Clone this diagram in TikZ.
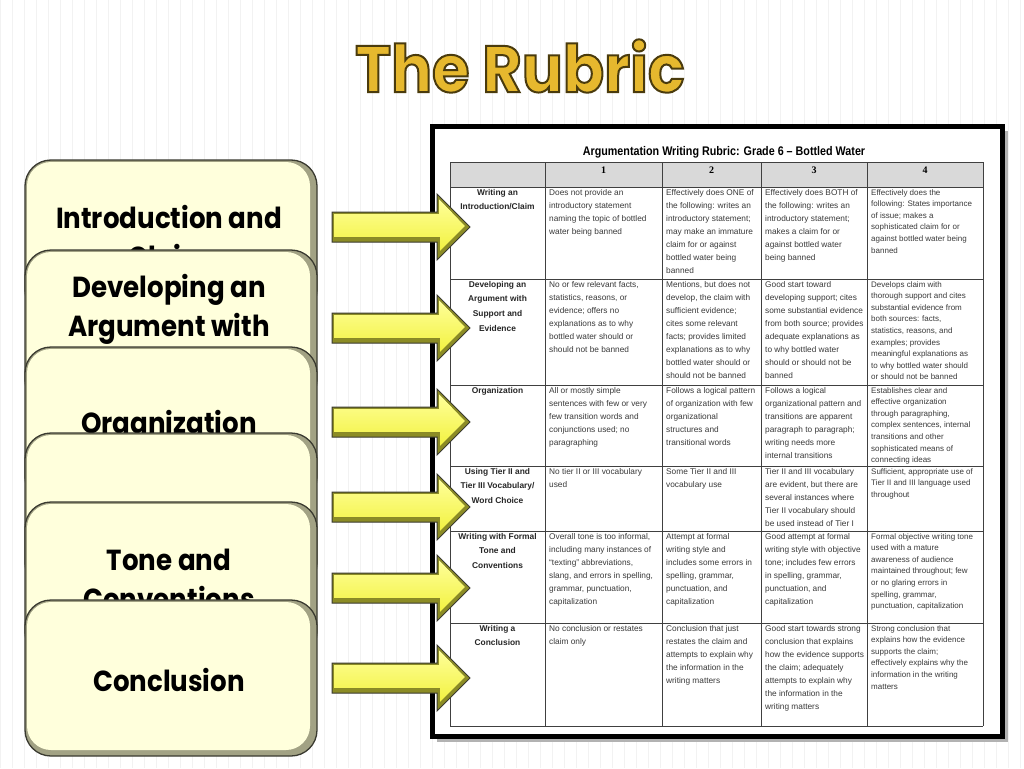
\documentclass[tikz,border=0pt]{standalone}
\usepackage{fontspec}
\setmainfont{Liberation Sans}
\newfontfamily\cardfont[FakeStretch=0.9]{Poppins}
\newfontfamily\titlefont[FakeStretch=0.92]{Poppins}
\newfontfamily\narrowfont[FakeStretch=0.86]{Liberation Sans}
\newfontfamily\numfont{Liberation Serif}
\definecolor{cream}{HTML}{FFFFDC}
\definecolor{bevel}{HTML}{A2A284}
\definecolor{cardline}{HTML}{3A3A30}
\definecolor{gold}{HTML}{E6B82E}
\definecolor{arrowL}{HTML}{FFFF9A}
\definecolor{arrowY}{HTML}{F2F240}
\definecolor{arrowD}{HTML}{8C8C25}
\definecolor{hdrgray}{HTML}{D9D9D9}
\definecolor{celltext}{HTML}{3A3A3A}
\newcommand\outlinedtitle[1]{\color{gold}\special{pdf:literal 2 Tr 2 w 0.29 0.23 0.05 RG}#1\special{pdf:literal 0 Tr 0.4 w}}
\newcommand\blockarrow[1]{%
  \draw[cardline, line width=1pt, fill=arrowD] (332,#1-15) -- (437,#1-15) -- (437,#1-33) -- (470,#1) -- (437,#1+33) -- (437,#1+15) -- (332,#1+15) -- cycle;
  \fill[top color=arrowL, bottom color=arrowY] (334,#1-13) -- (439,#1-13) -- (439,#1-28) -- (465,#1-1) -- (440,#1+24) -- (440,#1+10) -- (334,#1+10) -- cycle;
}
\tikzset{
  cardout/.style={draw=cardline, fill=bevel, line width=1.3pt, rounded corners=26pt, minimum width=292pt, minimum height=156pt, inner sep=0pt},
  cardin/.style={fill=cream, rounded corners=24pt, minimum width=283pt, minimum height=148pt, inner sep=0pt},
  cardtext/.style={font=\cardfont\bfseries\fontsize{29}{39}\selectfont, align=center, text=black, inner sep=0pt},
  cell/.style={anchor=north west, inner sep=0pt, align=left, text=celltext, font=\fontsize{8.3}{13}\selectfont},
  cellb/.style={cell, font=\fontsize{8}{11.6}\selectfont},
  rowhead/.style={anchor=north, inner sep=0pt, align=center, text=black!85, font=\bfseries\fontsize{8.4}{14.6}\selectfont},
  colnum/.style={inner sep=0pt, font=\numfont\bfseries\fontsize{10}{12}\selectfont},
  gridline/.style={black!75, line width=0.8pt}
}
\begin{document}
\begin{tikzpicture}[x=1pt, y=-1pt]
\useasboundingbox (0,0) rectangle (1024,768);
\fill[white] (0,0) rectangle (1024,768);
\draw[black!5, line width=0.4pt, step=12] (0,0) grid (1024,768);
% title
\node[font=\titlefont\bfseries\fontsize{66}{70}\selectfont, inner sep=0pt] (title) at (520,66) {\outlinedtitle{The Rubric}};
% table frame
\fill[black!30] (437,131) rectangle (1008,742);
\draw[black, line width=5pt, fill=white] (432,126) rectangle (1002,736);
\node[font=\narrowfont\bfseries\fontsize{12.5}{14}\selectfont, inner sep=0pt] (ttitle) at (724,152) {Argumentation Writing Rubric: Grade 6 – Bottled Water};
\fill[hdrgray] (450,162) rectangle (983,187);
\foreach \yy in {162,187,279,385,466,531,623,726} \draw[gridline] (450,\yy) -- (983,\yy);
\foreach \xx in {450,545,662,761,867,983} \draw[gridline] (\xx,162) -- (\xx,726);
\node[colnum] (n1) at (603.5,170) {1};
\node[colnum] (n2) at (711.5,170) {2};
\node[colnum] (n3) at (814,170) {3};
\node[colnum] (n4) at (925,170) {4};
% row 1
\node[rowhead] (h1) at (497.5,189) {Writing an\\Introduction/Claim};
\node[cell] (r1c1) at (549,189) {Does not provide an\\introductory statement\\naming the topic of bottled\\water being banned};
\node[cell] (r1c2) at (666,189) {Effectively does ONE of\\the following: writes an\\introductory statement;\\may make an immature\\claim for or against\\bottled water being\\banned};
\node[cell] (r1c3) at (765,189) {Effectively does BOTH of\\the following: writes an\\introductory statement;\\makes a claim for or\\against bottled water\\being banned};
\node[cellb] (r1c4) at (871,189) {Effectively does the\\following: States importance\\of issue; makes a\\sophisticated claim for or\\against bottled water being\\banned};
% row 2
\node[rowhead] (h2) at (497.5,281) {Developing an\\Argument with\\Support and\\Evidence};
\node[cell] (r2c1) at (549,281) {No or few relevant facts,\\statistics, reasons, or\\evidence; offers no\\explanations as to why\\bottled water should or\\should not be banned};
\node[cell] (r2c2) at (666,281) {Mentions, but does not\\develop, the claim with\\sufficient evidence;\\cites some relevant\\facts; provides limited\\explanations as to why\\bottled water should or\\should not be banned};
\node[cell] (r2c3) at (765,281) {Good start toward\\developing support; cites\\some substantial evidence\\from both source; provides\\adequate explanations as\\to why bottled water\\should or should not be\\banned};
\node[cellb] (r2c4) at (871,281) {Develops claim with\\thorough support and cites\\substantial evidence from\\both sources: facts,\\statistics, reasons, and\\examples; provides\\meaningful explanations as\\to why bottled water should\\or should not be banned};
% row 3
\node[rowhead] (h3) at (497.5,387) {Organization};
\node[cell] (r3c1) at (549,387) {All or mostly simple\\sentences with few or very\\few transition words and\\conjunctions used; no\\paragraphing};
\node[cell] (r3c2) at (666,387) {Follows a logical pattern\\of organization with few\\organizational\\structures and\\transitional words};
\node[cell] (r3c3) at (765,387) {Follows a logical\\organizational pattern and\\transitions are apparent\\paragraph to paragraph;\\writing needs more\\internal transitions};
\node[cellb] (r3c4) at (871,387) {Establishes clear and\\effective organization\\through paragraphing,\\complex sentences, internal\\transitions and other\\sophisticated means of\\connecting ideas};
% row 4
\node[rowhead] (h4) at (497.5,468) {Using Tier II and\\Tier III Vocabulary/\\Word Choice};
\node[cell] (r4c1) at (549,468) {No tier II or III vocabulary\\used};
\node[cell] (r4c2) at (666,468) {Some Tier II and III\\vocabulary use};
\node[cell] (r4c3) at (765,468) {Tier II and III vocabulary\\are evident, but there are\\several instances where\\Tier II vocabulary should\\be used instead of Tier I};
\node[cellb] (r4c4) at (871,468) {Sufficient, appropriate use of\\Tier II and III language used\\throughout};
% row 5
\node[rowhead] (h5) at (497.5,533) {Writing with Formal\\Tone and\\Conventions};
\node[cell] (r5c1) at (549,533) {Overall tone is too informal,\\including many instances of\\“texting” abbreviations,\\slang, and errors in spelling,\\grammar, punctuation,\\capitalization};
\node[cell] (r5c2) at (666,533) {Attempt at formal\\writing style and\\includes some errors in\\spelling, grammar,\\punctuation, and\\capitalization};
\node[cell] (r5c3) at (765,533) {Good attempt at formal\\writing style with objective\\tone; includes few errors\\in spelling, grammar,\\punctuation, and\\capitalization};
\node[cellb] (r5c4) at (871,533) {Formal objective writing tone\\used with a mature\\awareness of audience\\maintained throughout; few\\or no glaring errors in\\spelling, grammar,\\punctuation, capitalization};
% row 6
\node[rowhead] (h6) at (497.5,625) {Writing a\\Conclusion};
\node[cell] (r6c1) at (549,625) {No conclusion or restates\\claim only};
\node[cell] (r6c2) at (666,625) {Conclusion that just\\restates the claim and\\attempts to explain why\\the information in the\\writing matters};
\node[cell] (r6c3) at (765,625) {Good start towards strong\\conclusion that explains\\how the evidence supports\\the claim; adequately\\attempts to explain why\\the information in the\\writing matters};
\node[cellb] (r6c4) at (871,625) {Strong conclusion that\\explains how the evidence\\supports the claim;\\effectively explains why the\\information in the writing\\matters};
% cards
\node[cardout] (k1) at (171,238) {};
\node[cardin] (k1i) at (168.5,236) {};
\node[cardtext] (t1) at (169,236) {Introduction and\\Claim};
\node[cardout] (k2) at (171,328) {};
\node[cardin] (k2i) at (168.5,326) {};
\node[cardtext] (t2) at (169,309) {Developing an\\Argument with};
\node[cardout] (k3) at (171,425) {};
\node[cardin] (k3i) at (168.5,423) {};
\node[cardtext] (t3) at (169,426) {Organization};
\node[cardout] (k4) at (171,511) {};
\node[cardin] (k4i) at (168.5,509) {};
\node[cardout] (k5) at (171,580) {};
\node[cardin] (k5i) at (168.5,578) {};
\node[cardtext] (t5) at (169,579) {Tone and\\Conventions};
\node[cardout] (k6) at (171,678) {};
\node[cardin] (k6i) at (168.5,676) {};
\node[cardtext] (t6) at (169,680) {Conclusion};
% arrows
\blockarrow{227}
\blockarrow{328}
\blockarrow{422}
\blockarrow{507}
\blockarrow{588}
\blockarrow{678}
\end{tikzpicture}
\end{document}
